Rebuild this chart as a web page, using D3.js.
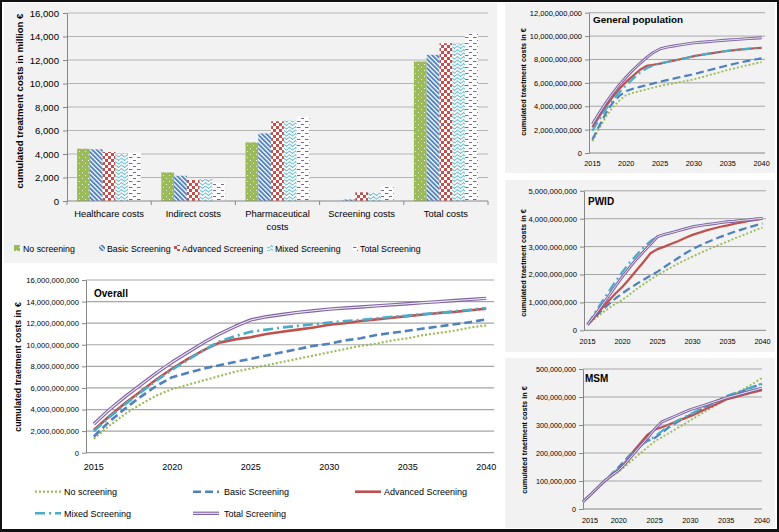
<!DOCTYPE html>
<html><head><meta charset="utf-8">
<script src="https://cdn.jsdelivr.net/npm/d3@7"></script>
<style>
html,body{margin:0;padding:0;background:#fff;}
svg{display:block;}
</style></head><body>
<svg id="chart" width="779" height="532"></svg>
<script>
// ---------------- DATA ----------------
const strategies = ["No screening","Basic Screening","Advanced Screening","Mixed Screening","Total Screening"];
const costCategories = ["Healthcare costs","Indirect costs","Pharmaceutical costs","Screening costs","Total costs"];
// bar chart, million €
const barNoScreening = [4450, 2440, 4990, 0, 11880];
const barBasic       = [4400, 2150, 5760, 130, 12440];
const barAdvanced    = [4170, 1790, 6780, 740, 13420];
const barMixed       = [4000, 1870, 6830, 710, 13410];
const barTotal       = [4110, 1560, 7170, 1300, 14270];
const barTicks = [0,2000,4000,6000,8000,10000,12000,14000,16000];

const years = [2015,2016,2017,2018,2019,2020,2021,2022,2023,2024,2025,2026,2027,2028,2029,2030,2031,2032,2033,2034,2035,2036,2037,2038,2039,2040];
const yearLabels = [2015,2020,2025,2030,2035,2040];

// Overall, billion €
const overallNo       = [1.3,2.5,3.6,4.5,5.3,5.9,6.3,6.7,7.1,7.5,7.8,8.1,8.4,8.7,9.0,9.3,9.6,9.9,10.1,10.4,10.6,10.9,11.1,11.3,11.6,11.8];
const overallBasic    = [1.5,2.9,4.1,5.2,6.2,7.0,7.4,7.8,8.1,8.4,8.7,9.0,9.3,9.6,9.9,10.1,10.4,10.6,10.9,11.1,11.3,11.5,11.7,11.9,12.1,12.35];
const overallAdvanced = [2.1,3.4,4.6,5.7,6.8,7.8,8.7,9.5,10.2,10.5,10.7,11.0,11.2,11.4,11.6,11.85,12.0,12.2,12.35,12.5,12.65,12.8,12.95,13.05,13.2,13.35];
const overallMixed    = [2.0,3.3,4.5,5.6,6.7,7.7,8.6,9.5,10.3,10.8,11.2,11.4,11.6,11.75,11.9,12.05,12.2,12.3,12.45,12.6,12.7,12.85,12.95,13.1,13.25,13.4];
const overallTotal    = [2.65,4.0,5.2,6.3,7.4,8.4,9.3,10.2,11.0,11.7,12.3,12.6,12.8,13.0,13.15,13.3,13.4,13.5,13.6,13.7,13.8,13.9,14.0,14.1,14.2,14.3];
const overallTicks = [0,2,4,6,8,10,12,14,16];

// General population, billion €
const gpNo       = [1.0,2.1,3.1,3.9,4.5,4.95,5.15,5.3,5.45,5.6,5.73,5.85,5.96,6.07,6.18,6.3,6.46,6.62,6.78,6.94,7.1,7.24,7.38,7.52,7.65,7.78];
const gpBasic    = [1.15,2.3,3.4,4.3,4.9,5.3,5.5,5.65,5.8,5.95,6.1,6.23,6.36,6.5,6.62,6.75,6.9,7.05,7.2,7.35,7.5,7.63,7.76,7.88,8.0,8.1];
const gpAdvanced = [2.2,3.1,4.0,4.8,5.5,6.1,6.6,7.1,7.45,7.55,7.65,7.78,7.9,8.02,8.15,8.28,8.38,8.48,8.57,8.66,8.74,8.8,8.86,8.91,8.96,9.0];
const gpMixed    = [1.9,2.85,3.75,4.55,5.2,5.8,6.35,6.85,7.25,7.5,7.65,7.78,7.9,8.02,8.15,8.28,8.38,8.48,8.57,8.66,8.74,8.8,8.86,8.91,8.96,9.0];
const gpTotal    = [2.45,3.4,4.3,5.1,5.85,6.5,7.1,7.65,8.15,8.6,8.9,9.05,9.15,9.25,9.33,9.42,9.47,9.52,9.57,9.62,9.66,9.7,9.74,9.78,9.82,9.86];
const gpTicks = [0,2,4,6,8,10,12];

// PWID, billion €
const pwidNo       = [0.2,0.4,0.6,0.79,0.95,1.09,1.28,1.47,1.65,1.82,1.98,2.12,2.26,2.4,2.52,2.64,2.76,2.87,2.98,3.08,3.18,3.29,3.39,3.49,3.59,3.68];
const pwidBasic    = [0.2,0.45,0.7,0.93,1.14,1.33,1.5,1.66,1.81,1.96,2.1,2.27,2.44,2.6,2.76,2.91,3.03,3.15,3.25,3.35,3.44,3.53,3.61,3.69,3.76,3.83];
const pwidAdvanced = [0.2,0.47,0.77,1.05,1.32,1.56,1.85,2.15,2.45,2.76,2.91,3.0,3.1,3.2,3.32,3.42,3.5,3.58,3.65,3.71,3.76,3.82,3.87,3.92,3.96,4.0];
const pwidMixed    = [0.2,0.6,1.0,1.38,1.75,2.1,2.42,2.7,2.97,3.2,3.36,3.44,3.5,3.57,3.64,3.71,3.75,3.79,3.82,3.86,3.89,3.91,3.94,3.96,3.99,4.01];
const pwidTotal    = [0.2,0.53,0.87,1.22,1.58,1.93,2.25,2.55,2.82,3.08,3.36,3.44,3.5,3.57,3.64,3.71,3.75,3.79,3.82,3.86,3.89,3.91,3.94,3.96,3.99,4.01];
const pwidTicks = [0,1,2,3,4,5];

// MSM, million €
const msmNo       = [26,48,72,96,116,134,155,177,199,220,241,256,271,286,301,317,332,347,362,377,392,407,422,437,452,468];
const msmBasic    = [26,50,75,100,125,150,178,205,228,243,253,272,292,308,322,337,350,363,376,389,402,410,419,428,438,447];
const msmAdvanced = [26,50,75,100,120,140,170,205,235,265,283,292,302,312,322,331,343,355,367,379,391,398,405,412,418,424];
const msmMixed    = [26,50,75,100,122,145,172,200,225,245,258,278,298,313,326,339,352,365,378,391,403,412,421,430,439,448];
const msmTotal    = [26,50,75,100,120,138,165,195,225,253,285,311,322,333,344,355,363,371,380,388,397,404,411,418,425,432];
const msmTicks = [0,100,200,300,400,500];

// ---------------- DRAW ----------------
const FONT = "'Liberation Sans', Arial, sans-serif";
const svg = d3.select("#chart").attr("font-family", FONT);
const GREEN="#9bbb59", BLUE="#4f81bd", RED="#c0504d", CYAN="#4bacc6", PURPLE="#8064a2";
const AX="#868686", GRID="#a6a6a6", PANEL="#f2f2f2";

// frame
svg.append("rect").attr("width",779).attr("height",532).attr("fill","#111");
svg.append("rect").attr("x",2).attr("y",2).attr("width",775).attr("height",527).attr("fill","#fff");
svg.append("rect").attr("x",4).attr("y",3).attr("width",493).attr("height",260).attr("fill",PANEL);
svg.append("rect").attr("x",505).attr("y",3).attr("width",270).attr("height",170).attr("fill",PANEL);
svg.append("rect").attr("x",505).attr("y",180).attr("width",270).attr("height",172).attr("fill",PANEL);
svg.append("rect").attr("x",505).attr("y",358).attr("width",270).attr("height",170).attr("fill",PANEL);

// patterns
const defs = svg.append("defs");
{
  const p = defs.append("pattern").attr("id","pNo").attr("patternUnits","userSpaceOnUse").attr("width",6).attr("height",6);
  p.append("rect").attr("width",6).attr("height",6).attr("fill",GREEN);
  p.append("rect").attr("x",1).attr("y",1).attr("width",1).attr("height",1).attr("fill","#fff").attr("opacity",0.8);
  p.append("rect").attr("x",4).attr("y",4).attr("width",1).attr("height",1).attr("fill","#fff").attr("opacity",0.8);
}
{
  const p = defs.append("pattern").attr("id","pBasic").attr("patternUnits","userSpaceOnUse").attr("width",3.2).attr("height",3.2).attr("patternTransform","rotate(-45)");
  p.append("rect").attr("width",3.2).attr("height",3.2).attr("fill","#fff");
  p.append("rect").attr("x",0).attr("y",0).attr("width",1.9).attr("height",3.2).attr("fill",BLUE);
}
{
  const p = defs.append("pattern").attr("id","pAdv").attr("patternUnits","userSpaceOnUse").attr("width",6).attr("height",6);
  p.append("rect").attr("width",6).attr("height",6).attr("fill","#fff");
  p.append("rect").attr("width",3).attr("height",3).attr("fill",RED);
  p.append("rect").attr("x",3).attr("y",3).attr("width",3).attr("height",3).attr("fill",RED);
}
{
  const p = defs.append("pattern").attr("id","pMixed").attr("patternUnits","userSpaceOnUse").attr("width",6).attr("height",3.5);
  p.append("rect").attr("width",6).attr("height",3.5).attr("fill","#fff");
  p.append("path").attr("d","M0,1.8 L1.5,0.6 L3,1.8 L4.5,3 L6,1.8").attr("fill","none").attr("stroke",CYAN).attr("stroke-width",0.9);
}
{
  const p = defs.append("pattern").attr("id","pTotal").attr("patternUnits","userSpaceOnUse").attr("width",8).attr("height",6);
  p.append("rect").attr("width",8).attr("height",6).attr("fill","#fff");
  p.append("rect").attr("x",1).attr("y",1).attr("width",3.5).attr("height",1).attr("fill",PURPLE);
  p.append("rect").attr("x",5).attr("y",4).attr("width",3.5).attr("height",1).attr("fill",PURPLE);
}
const barFills = ["url(#pNo)","url(#pBasic)","url(#pAdv)","url(#pMixed)","url(#pTotal)"];
const barSeries = [barNoScreening, barBasic, barAdvanced, barMixed, barTotal];

// ---------- Bar chart ----------
const bx = d3.scaleBand().domain(costCategories).range([67,488]);
const bw = bx.bandwidth();
const bs = d3.scaleBand().domain(strategies).range([bw*0.12, bw*0.88]);
const by = d3.scaleLinear().domain([0,16000]).range([201,13]);
const gBar = svg.append("g");
gBar.append("g").selectAll("line").data(barTicks.slice(1)).join("line")
  .attr("x1",67).attr("x2",488).attr("y1",d=>by(d)).attr("y2",d=>by(d)).attr("stroke","#b4b4b4").attr("stroke-width",1);
strategies.forEach((s,i)=>{
  gBar.append("g").selectAll("rect").data(barSeries[i]).join("rect")
    .attr("x",(d,j)=>bx(costCategories[j])+bs(s))
    .attr("width",bs.bandwidth())
    .attr("y",d=>by(d)).attr("height",d=>by(0)-by(d))
    .attr("fill",barFills[i]);
});
{
  const a = gBar.append("g").attr("transform","translate(67,0)")
    .call(d3.axisLeft(by).tickValues(barTicks).tickFormat(d3.format(",")).tickSize(4).tickSizeOuter(0).tickPadding(4));
  a.select(".domain").attr("stroke",AX);
  a.selectAll(".tick line").attr("stroke",AX);
  a.selectAll("text").attr("font-size",9.6).attr("fill","#000").attr("font-family",FONT);
  // x axis
  gBar.append("line").attr("x1",67).attr("x2",488).attr("y1",by(0)).attr("y2",by(0)).attr("stroke",AX);
  const bounds = costCategories.map(c=>bx(c)).concat([488]);
  gBar.append("g").selectAll("line").data(bounds).join("line")
    .attr("x1",d=>d).attr("x2",d=>d).attr("y1",by(0)).attr("y2",by(0)+4).attr("stroke",AX);
  const lab = gBar.append("g").selectAll("text").data(costCategories).join("text")
    .attr("x",d=>bx(d)+bw/2).attr("y",217).attr("text-anchor","middle").attr("font-size",9.4).attr("fill","#000");
  lab.each(function(d){
    const t = d3.select(this);
    if (d === "Pharmaceutical costs") {
      t.append("tspan").attr("x",bx(d)+bw/2).attr("dy",0).text("Pharmaceutical");
      t.append("tspan").attr("x",bx(d)+bw/2).attr("dy",13).text("costs");
    } else t.text(d);
  });
  gBar.append("text").attr("transform","translate(23,101) rotate(-90)").attr("text-anchor","middle")
    .attr("font-size",9.6).attr("font-weight","bold").text("cumulated treatment costs in million €");
  // legend
  const legX = [[14,23],[99,107],[174,182],[267,275],[352,360]];
  strategies.forEach((s,i)=>{
    gBar.append("rect").attr("x",legX[i][0]).attr("y",245).attr("width",6).attr("height",6).attr("fill",barFills[i]);
    gBar.append("text").attr("x",legX[i][1]).attr("y",251.5).attr("font-size",8.8).text(s);
  });
}

// ---------- Line styles ----------
function drawSeries(g, data, x, y, style, k) {
  const line = d3.line().x((d,i)=>x(years[i])).y(d=>y(d));
  drawStyled(g, data, line, style, k);
}
function drawStyled(g, data, line, style, k) {
  const p = g.append("path").datum(data).attr("d",line).attr("fill","none")
    .attr("stroke",style.color).attr("stroke-width",style.width*k).attr("stroke-linejoin","round");
  if (style.dash) p.attr("stroke-dasharray",style.dash);
  if (style.inner) {
    g.append("path").datum(data).attr("d",line).attr("fill","none")
      .attr("stroke",style.inner).attr("stroke-width",style.innerWidth*k).attr("stroke-linejoin","round");
  }
}
const lineStyles = [
  {color:GREEN, width:2.2, dash:"2,2"},
  {color:BLUE, width:2.6, dash:"8,4"},
  {color:RED, width:2.6, dash:null},
  {color:CYAN, width:2.6, dash:"10,4,2,4"},
  {color:PURPLE, width:3.4, inner:"#efeaf5", innerWidth:1.1}
];

function linePanel(o) {
  const g = svg.append("g");
  const x = d3.scalePoint().domain(years).range(o.xRange).padding(o.pad);
  const y = d3.scaleLinear().domain(o.yDomain).range(o.yRange);
  g.append("g").selectAll("line").data(o.ticks.slice(1)).join("line")
    .attr("x1",o.xRange[0]).attr("x2",o.xRange[1]).attr("y1",d=>y(d)).attr("y2",d=>y(d))
    .attr("stroke",GRID).attr("stroke-width",o.gridW);
  const a = g.append("g").attr("transform",`translate(${o.xRange[0]},0)`)
    .call(d3.axisLeft(y).tickValues(o.ticks).tickFormat(d=>d3.format(",")(Math.round(d*o.mult))).tickSize(4).tickSizeOuter(0).tickPadding(o.tickPad||3));
  a.select(".domain").attr("stroke",AX);
  a.selectAll(".tick line").attr("stroke",AX);
  a.selectAll("text").attr("font-size",o.tickFont).attr("fill","#000").attr("font-family",FONT);
  g.append("line").attr("x1",o.xRange[0]).attr("x2",o.xRange[1]).attr("y1",y(0)).attr("y2",y(0)).attr("stroke",AX);
  g.append("g").selectAll("text").data(yearLabels).join("text")
    .attr("x",d=>Math.max(x(d), o.xRange[0]+o.minLab)).attr("y",o.xLabY).attr("text-anchor","middle")
    .attr("font-size",o.xFont).attr("fill","#000").text(d=>d);
  o.series.forEach((s,i)=>drawSeries(g, s, x, y, lineStyles[i], o.k));
  g.append("text").attr("x",o.titleX).attr("y",o.titleY).attr("font-weight","bold").attr("font-size",o.titleFont).text(o.title);
  g.append("text").attr("transform",`translate(${o.yLabX},${o.yLabY}) rotate(-90)`).attr("text-anchor","middle")
    .attr("font-weight","bold").attr("font-size",o.yLabFont).text("cumulated traetment costs in €");
  return g;
}

// Overall
linePanel({series:[overallNo,overallBasic,overallAdvanced,overallMixed,overallTotal],
  xRange:[86,494], pad:0.5, yDomain:[0,16], yRange:[452.7,280], ticks:overallTicks, mult:1e9,
  gridW:1.2, tickFont:7.6, xFont:9, xLabY:469.5, minLab:0, k:1,
  title:"Overall", titleX:94, titleY:296.5, titleFont:10,
  yLabX:21, yLabY:367, yLabFont:8.8});

// Overall legend
{
  const g = svg.append("g");
  const items = [[35,64,491.7],[193,224,491.7],[355,384,491.7],[35,64,513.3],[193,224,513.3]];
  strategies.forEach((s,i)=>{
    const [lx,tx,ly] = items[i];
    const line = d3.line();
    drawStyled(g, [[lx,ly],[lx+26,ly]], line, lineStyles[i], 1);
    g.append("text").attr("x",tx).attr("y",ly+3.3).attr("font-size",9).text(s);
  });
}

// General population
linePanel({series:[gpNo,gpBasic,gpAdvanced,gpMixed,gpTotal],
  xRange:[589,765], pad:0.5, yDomain:[0,12], yRange:[153,12.7], ticks:gpTicks, mult:1e9,
  gridW:1, tickFont:7.5, xFont:7.3, xLabY:165.5, minLab:0, k:0.85,
  title:"General population", titleX:593, titleY:22.5, titleFont:9.9,
  yLabX:526, yLabY:82, yLabFont:7.3});

// PWID
linePanel({series:[pwidNo,pwidBasic,pwidAdvanced,pwidMixed,pwidTotal],
  xRange:[584,766], pad:0.5, yDomain:[0,5], yRange:[330.3,190.8], ticks:pwidTicks, mult:1e9,
  gridW:1, tickFont:7.6, xFont:7.3, xLabY:343.5, minLab:0, k:0.85,
  title:"PWID", titleX:588, titleY:205, titleFont:10,
  yLabX:526, yLabY:263, yLabFont:7.3});

// MSM
linePanel({series:[msmNo,msmBasic,msmAdvanced,msmMixed,msmTotal],
  xRange:[583,762], pad:0, yDomain:[0,500], yRange:[509,369], ticks:msmTicks, mult:1e6,
  gridW:1, tickFont:7.2, xFont:7.3, xLabY:522.5, minLab:7, k:0.85,
  title:"MSM", titleX:585, titleY:382, titleFont:10,
  yLabX:527, yLabY:440, yLabFont:7.3});
</script></body></html>
